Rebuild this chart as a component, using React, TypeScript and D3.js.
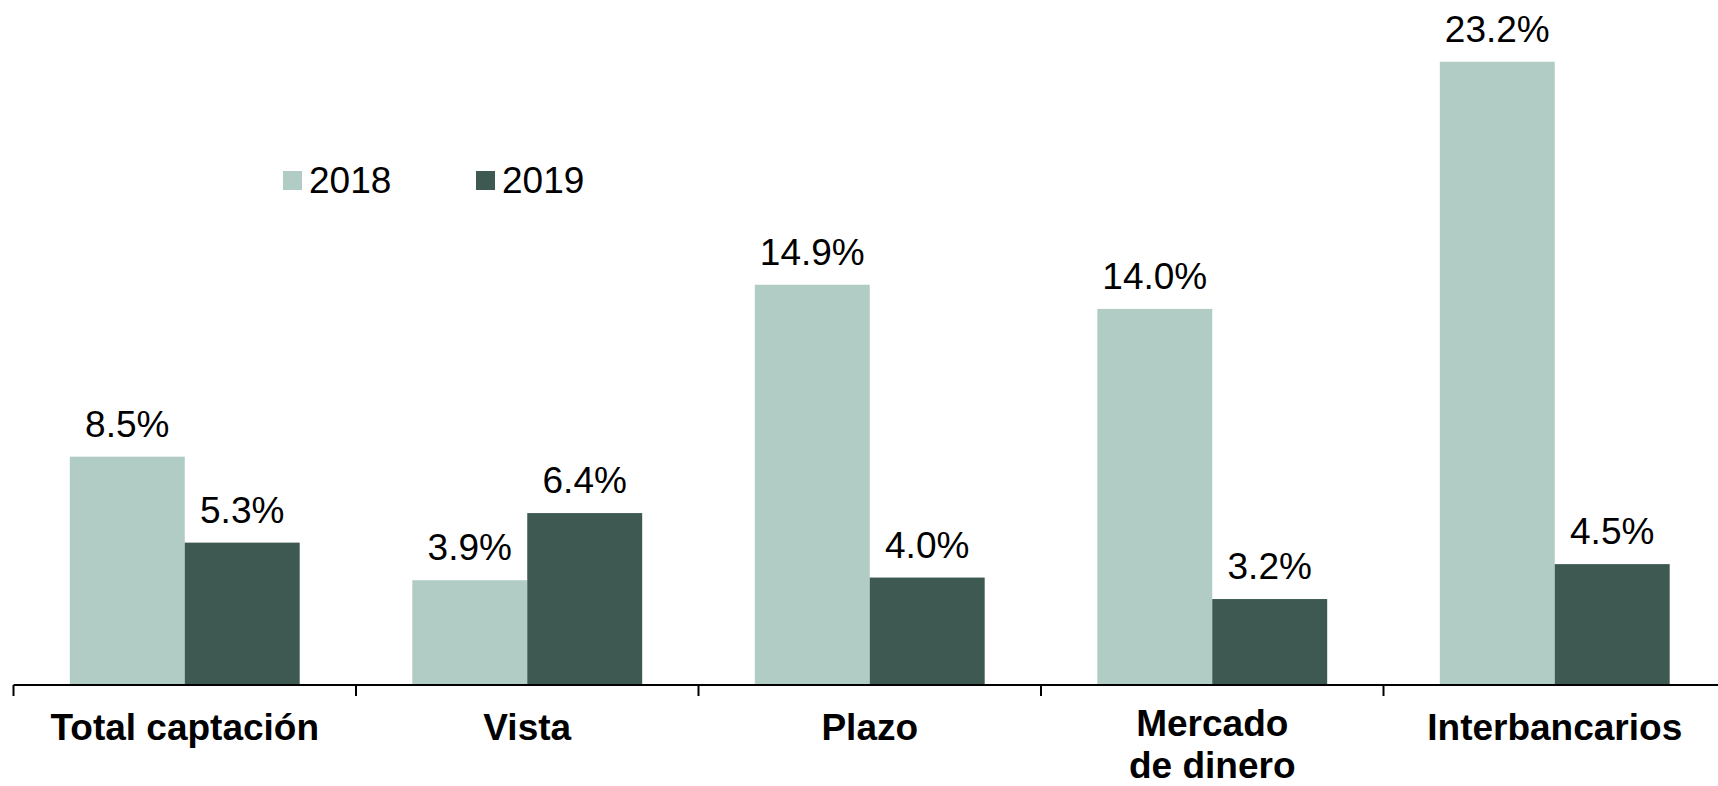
import * as d3 from "d3";
import { useEffect, useRef } from "react";

// categorías y valores (crecimiento anual, %)
const categories = ["Total captación", "Vista", "Plazo", "Mercado de dinero", "Interbancarios"];
const categoryLines = [["Total captación"], ["Vista"], ["Plazo"], ["Mercado", "de dinero"], ["Interbancarios"]];
const series = ["2018", "2019"];
const values2018 = [8.5, 3.9, 14.9, 14.0, 23.2];
const values2019 = [5.3, 6.4, 4.0, 3.2, 4.5];
const colors = ["#b1cbc5", "#3d5952"];

const W = 1718;
const H = 786;

const App = () => {
    const ref = useRef<SVGSVGElement>(null);

    useEffect(() => {
        const svg = d3.select(ref.current);
        svg.selectAll("*").remove();

        const baseY = 685;
        const font = "'Liberation Sans', Arial, sans-serif";

        const x = d3.scaleBand<string>()
            .domain(categories)
            .range([13.5, 1726])
            .paddingInner(0)
            .paddingOuter(0);

        const xInner = d3.scaleBand<string>()
            .domain(series)
            .range([0, x.bandwidth()])
            .paddingInner(0)
            .paddingOuter(0.49);

        const y = d3.scaleLinear().domain([0, 25.5]).range([baseY, 0]);

        const data = categories.map((c, i) => ({ cat: c, vals: [values2018[i], values2019[i]] }));

        // barras y etiquetas de datos
        series.forEach((s, si) => {
            svg.append("g")
                .selectAll("rect")
                .data(data)
                .enter()
                .append("rect")
                .attr("x", d => x(d.cat)! + xInner(s)!)
                .attr("y", d => y(d.vals[si]))
                .attr("width", xInner.bandwidth())
                .attr("height", d => baseY - y(d.vals[si]))
                .style("fill", colors[si]);

            svg.append("g")
                .selectAll("text")
                .data(data)
                .enter()
                .append("text")
                .attr("x", d => x(d.cat)! + xInner(s)! + xInner.bandwidth() / 2)
                .attr("y", d => y(d.vals[si]) - 20)
                .attr("text-anchor", "middle")
                .style("font-family", font)
                .style("font-size", "37px")
                .style("fill", "#000")
                .text(d => d.vals[si].toFixed(1) + "%");
        });

        // eje X
        svg.append("line")
            .attr("x1", 13.5)
            .attr("x2", W)
            .attr("y1", baseY)
            .attr("y2", baseY)
            .style("stroke", "#000")
            .style("stroke-width", 2);

        const tickPos = categories.map(c => x(c)!);
        svg.append("g")
            .selectAll("line")
            .data(tickPos)
            .enter()
            .append("line")
            .attr("x1", d => d)
            .attr("x2", d => d)
            .attr("y1", baseY)
            .attr("y2", baseY + 11)
            .style("stroke", "#000")
            .style("stroke-width", 2);

        // etiquetas de categorías (una línea de texto por renglón)
        categories.forEach((c, i) => {
            categoryLines[i].forEach((line, li) => {
                svg.append("text")
                    .attr("x", x(c)! + x.bandwidth() / 2)
                    .attr("y", (categoryLines[i].length > 1 ? 736 : 740) + li * 42)
                    .attr("text-anchor", "middle")
                    .style("font-family", font)
                    .style("font-size", "37px")
                    .style("font-weight", "bold")
                    .style("fill", "#000")
                    .text(line);
            });
        });

        // leyenda
        const legend = svg.append("g");
        const legendX = [283, 476];
        series.forEach((s, si) => {
            legend.append("rect")
                .attr("x", legendX[si])
                .attr("y", 171)
                .attr("width", 19)
                .attr("height", 19)
                .style("fill", colors[si]);
            legend.append("text")
                .attr("x", legendX[si] + 26)
                .attr("y", 193)
                .style("font-family", font)
                .style("font-size", "37px")
                .style("fill", "#000")
                .text(s);
        });
    }, []);

    return (
        <svg
            ref={ref}
            width={W}
            height={H}
            style={{ position: "absolute", left: 0, top: 0, background: "#fff" }}
        />
    );
};

export default App;
